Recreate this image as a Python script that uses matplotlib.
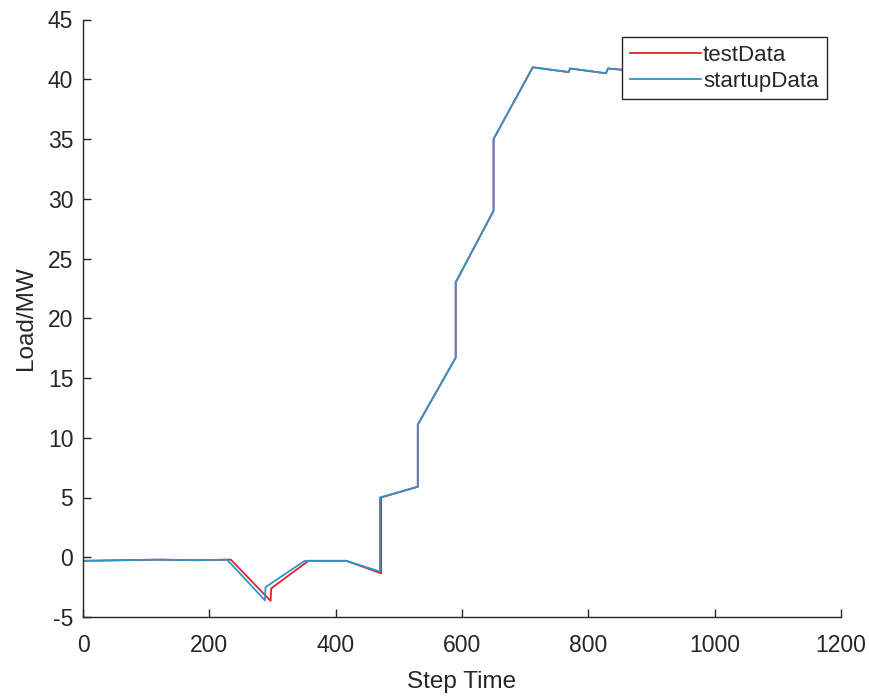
import matplotlib
matplotlib.use("Agg")
import matplotlib.pyplot as plt

# startupData (blue)
startup_x = [0, 60, 120, 180, 228, 288, 289, 351, 417, 470, 470, 530, 530, 590, 590, 650, 650, 712, 769, 771, 828, 831, 895]
startup_y = [-0.3, -0.25, -0.2, -0.25, -0.2, -3.6, -2.5, -0.3, -0.3, -1.2, 5.0, 5.9, 11.1, 16.7, 23.0, 29.0, 35.0, 41.0, 40.6, 40.9, 40.5, 40.9, 40.6]

# testData (red)
test_x = [0, 60, 120, 180, 234, 297, 298, 357, 417, 472, 472, 530, 530, 590, 590, 650, 650, 712, 769, 771, 828, 831, 895]
test_y = [-0.3, -0.25, -0.2, -0.25, -0.2, -3.65, -2.6, -0.3, -0.3, -1.35, 5.0, 5.9, 11.1, 16.7, 23.0, 29.0, 35.0, 41.0, 40.6, 40.9, 40.5, 40.9, 40.6]

xticks = [0, 200, 400, 600, 800, 1000, 1200]
yticks = [-5, 0, 5, 10, 15, 20, 25, 30, 35, 40, 45]

plt.rcParams['font.family'] = ['Liberation Sans', 'DejaVu Sans']
plt.rcParams['axes.unicode_minus'] = False
W, H = 869, 697
fig = plt.figure(figsize=(W / 100, H / 100), dpi=100)
ax = fig.add_axes([83 / W, 1 - 617 / H, (841 - 83) / W, (617 - 19.5) / H])

red = '#E0242F'
blue = '#2F95C8'
ax.plot(test_x, test_y, color=red, lw=1.3, label='testData')
ax.plot(startup_x, startup_y, color=blue, lw=1.3, label='startupData')

ax.set_xlim(0, 1200)
ax.set_ylim(-5, 45)
ax.set_xticks(xticks)
ax.set_yticks(yticks)
axcol = '#262626'
for s in ['top', 'right']:
    ax.spines[s].set_visible(False)
for s in ['left', 'bottom']:
    ax.spines[s].set_color(axcol)
    ax.spines[s].set_linewidth(1.0)
ax.tick_params(direction='in', length=5.5, width=1.0, colors=axcol, labelsize=16.5)
ax.tick_params(axis='x', pad=12)
ax.tick_params(axis='y', pad=7)
ax.set_xlabel('Step Time', fontsize=17.5, color=axcol, labelpad=10)
ax.set_ylabel('Load/MW', fontsize=17.5, color=axcol, labelpad=8)

leg = ax.legend(loc='upper left', bbox_to_anchor=(622 / W, 1 - 37 / H), bbox_transform=fig.transFigure,
                fontsize=16, frameon=True, fancybox=False, framealpha=1, handlelength=3.2, handletextpad=0.1,
                borderpad=0.35, labelspacing=0.22, borderaxespad=0)
leg.get_frame().set_edgecolor(axcol)
leg.get_frame().set_linewidth(1.0)
for t in leg.get_texts():
    t.set_color(axcol)

fig.savefig('out.png', dpi=100)
